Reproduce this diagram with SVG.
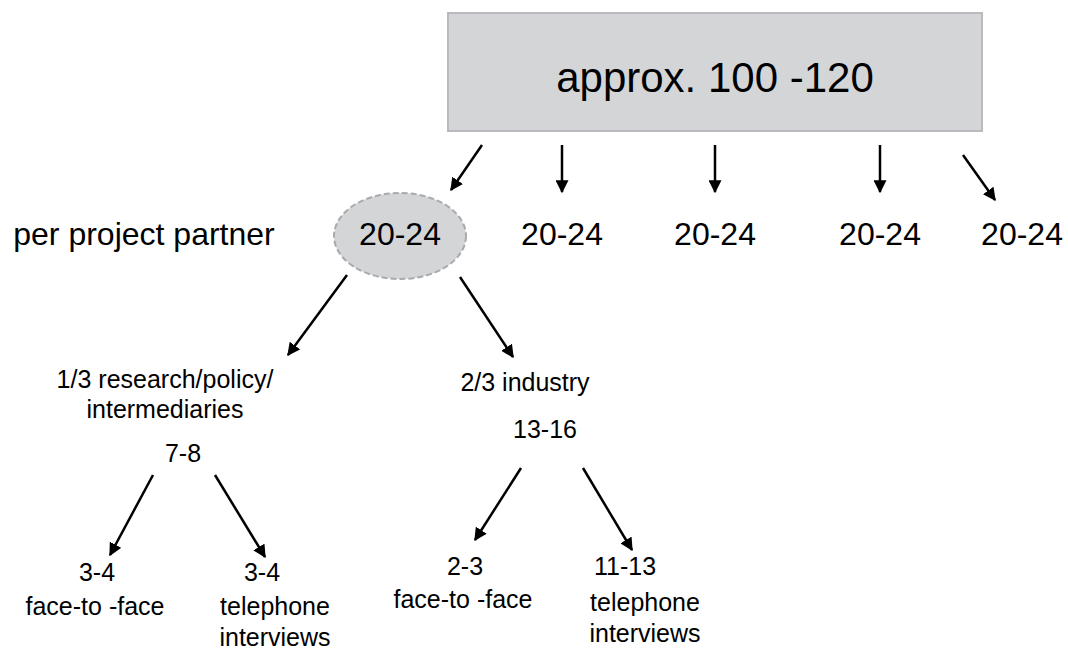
<svg xmlns="http://www.w3.org/2000/svg" width="1068" height="651" viewBox="0 0 1068 651">
<defs>
<marker id="ah" viewBox="0 0 10 10" refX="9" refY="5" markerWidth="5.2" markerHeight="5.2" orient="auto" markerUnits="strokeWidth">
<path d="M0,0 L10,5 L0,10 z" fill="#000"/>
</marker>
<style>
text{font-family:"Liberation Sans",Arial,sans-serif;fill:#000;text-anchor:middle}
.big{font-size:42px}
.mid{font-size:32px}
.sm{font-size:25px}
.c{stroke:#000;stroke-width:2.5;fill:none;marker-end:url(#ah)}
</style>
</defs>
<rect width="1068" height="651" fill="#fff"/>
<g id="total">
<rect x="448" y="13" width="534" height="118" fill="#d4d5d7" stroke="#b9babd" stroke-width="2"/>
<text class="big" x="715" y="92">approx. 100 -120</text>
</g>
<g id="label-partner"><text class="mid" x="144" y="245">per project partner</text></g>
<g id="p1">
<ellipse cx="400" cy="236" rx="66" ry="43" fill="#d4d5d7" stroke="#a9aaad" stroke-width="2" stroke-dasharray="6,3"/>
<text class="mid" x="400" y="245">20-24</text>
</g>
<g id="p2"><text class="mid" x="562" y="245">20-24</text></g>
<g id="p3"><text class="mid" x="715" y="245">20-24</text></g>
<g id="p4"><text class="mid" x="880" y="245">20-24</text></g>
<g id="p5"><text class="mid" x="1022" y="245">20-24</text></g>
<g id="research">
<text class="sm" x="165" y="388">1/3 research/policy/</text>
<text class="sm" x="165" y="418">intermediaries</text>
<text class="sm" x="183" y="462">7-8</text>
</g>
<g id="industry">
<text class="sm" x="525" y="391">2/3 industry</text>
<text class="sm" x="545" y="438">13-16</text>
</g>
<g id="r-f2f"><text class="sm" x="97" y="581">3-4</text><text class="sm" x="95" y="615">face-to -face</text></g>
<g id="r-tel"><text class="sm" x="262" y="581">3-4</text><text class="sm" x="275" y="615">telephone</text><text class="sm" x="275" y="646">interviews</text></g>
<g id="i-f2f"><text class="sm" x="465" y="575">2-3</text><text class="sm" x="463" y="608">face-to -face</text></g>
<g id="i-tel"><text class="sm" x="625" y="575">11-13</text><text class="sm" x="645" y="611">telephone</text><text class="sm" x="645" y="642">interviews</text></g>
<g id="connectors">
<line class="c" x1="482" y1="145" x2="451" y2="190"/>
<line class="c" x1="562" y1="145" x2="562" y2="192"/>
<line class="c" x1="715" y1="145" x2="715" y2="192"/>
<line class="c" x1="880" y1="145" x2="880" y2="192"/>
<line class="c" x1="963" y1="155" x2="995" y2="200"/>
<line class="c" x1="347" y1="275" x2="288" y2="355"/>
<line class="c" x1="460" y1="277" x2="513" y2="357"/>
<line class="c" x1="153" y1="475" x2="110" y2="555"/>
<line class="c" x1="215" y1="475" x2="265" y2="557"/>
<line class="c" x1="521" y1="468" x2="475" y2="540"/>
<line class="c" x1="583" y1="468" x2="632" y2="550"/>
</g>
</svg>
